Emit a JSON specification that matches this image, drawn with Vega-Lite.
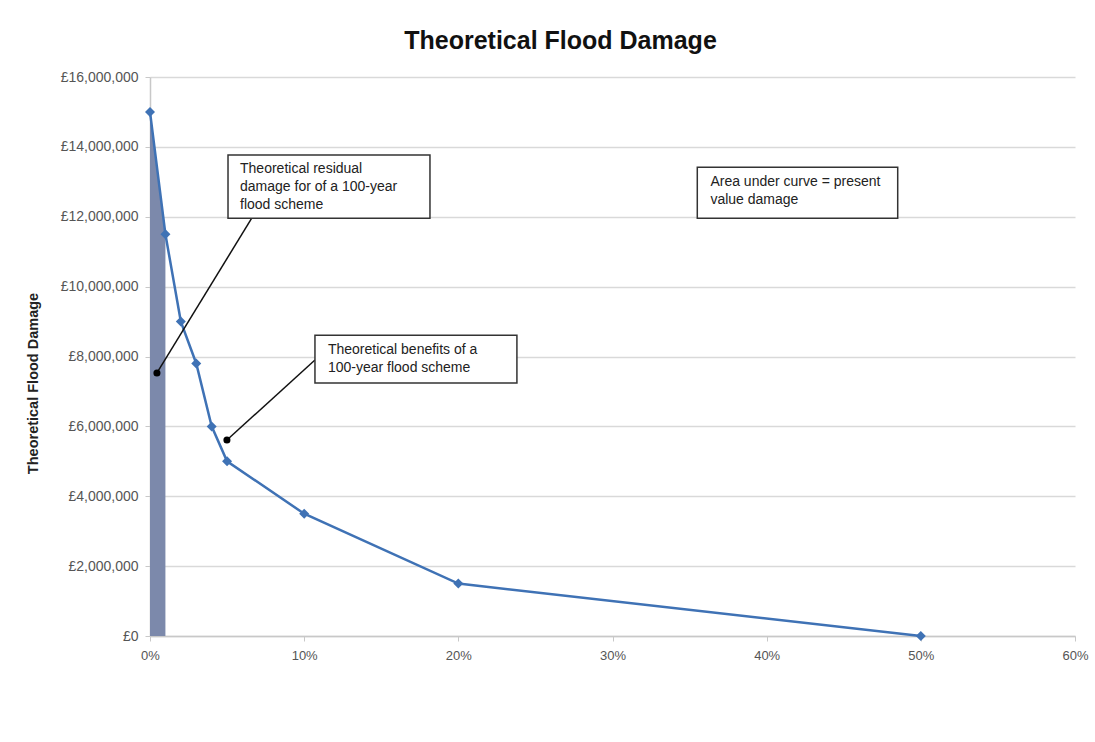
{
  "$schema": "https://vega.github.io/schema/vega-lite/v6.json",
  "width": 925,
  "height": 559,
  "autosize": "none",
  "padding": {"left": 150, "top": 77, "right": 20, "bottom": 106},
  "background": "white",
  "config": {
    "font": "Liberation Sans",
    "view": {"stroke": null}
  },
  "title": {
    "text": "Theoretical Flood Damage",
    "fontSize": 25,
    "fontWeight": "bold",
    "color": "#111111",
    "anchor": "middle",
    "dx": -52,
    "offset": 16
  },
  "datasets": {
    "curve": [
      {"p": 0, "d": 15000000},
      {"p": 0.01, "d": 11500000},
      {"p": 0.02, "d": 9000000},
      {"p": 0.03, "d": 7800000},
      {"p": 0.04, "d": 6000000},
      {"p": 0.05, "d": 5000000},
      {"p": 0.10, "d": 3500000},
      {"p": 0.20, "d": 1500000},
      {"p": 0.50, "d": 0}
    ],
    "shade": [
      {"p": 0, "d": 15000000},
      {"p": 0.01, "d": 11500000}
    ],
    "boxes": [
      {"x": 0.0506, "x2": 0.1816, "y": 11960000, "y2": 13770000, "tx": 0.0584, "ty": 13560000, "label": "Theoretical residual\ndamage for of a 100-year\nflood scheme"},
      {"x": 0.107, "x2": 0.238, "y": 7240000, "y2": 8610000, "tx": 0.1154, "ty": 8400000, "label": "Theoretical benefits of a\n100-year flood scheme"},
      {"x": 0.355, "x2": 0.485, "y": 11960000, "y2": 13420000, "tx": 0.3635, "ty": 13190000, "label": "Area under curve = present\nvalue damage"}
    ],
    "leaders": [
      {"x": 0.066, "y": 11960000, "x2": 0.0045, "y2": 7530000},
      {"x": 0.107, "y": 7900000, "x2": 0.0499, "y2": 5610000}
    ]
  },
  "layer": [
    {
      "data": {"name": "shade"},
      "mark": {"type": "area", "color": "#7c89ab", "opacity": 1},
      "encoding": {
        "x": {
          "field": "p", "type": "quantitative",
          "scale": {"domain": [0, 0.6], "nice": false},
          "axis": {
            "format": ".0%", "values": [0, 0.1, 0.2, 0.3, 0.4, 0.5, 0.6],
            "labelFlush": false,
            "grid": false, "domainColor": "#c8c8c8", "domainWidth": 1.5,
            "tickColor": "#c8c8c8", "tickSize": 5,
            "labelFontSize": 13, "labelColor": "#555555", "labelPadding": 8,
            "title": null
          }
        },
        "y": {
          "field": "d", "type": "quantitative",
          "scale": {"domain": [0, 16000000], "nice": false},
          "axis": {
            "values": [0, 2000000, 4000000, 6000000, 8000000, 10000000, 12000000, 14000000, 16000000],
            "labelExpr": "'£' + format(datum.value, ',.0f')",
            "labelFlush": false,
            "grid": true, "gridColor": "#d9d9d9", "gridWidth": 1.5,
            "domainColor": "#c8c8c8", "domainWidth": 1.5,
            "tickColor": "#c8c8c8", "tickSize": 5,
            "labelFontSize": 14, "labelColor": "#555555", "labelPadding": 7,
            "title": "Theoretical Flood Damage",
            "titleFontSize": 14.5, "titleFontWeight": "bold", "titleColor": "#222222",
            "titleX": -117, "titleY": 306, "titleAlign": "center", "titleBaseline": "middle", "titleAngle": -90
          }
        }
      }
    },
    {
      "data": {"name": "curve"},
      "mark": {"type": "line", "color": "#3f72b5", "strokeWidth": 2.5, "point": {"shape": "diamond", "size": 100, "color": "#3f72b5", "filled": true}},
      "encoding": {
        "x": {"field": "p", "type": "quantitative"},
        "y": {"field": "d", "type": "quantitative"}
      }
    },
    {
      "data": {"name": "leaders"},
      "mark": {"type": "rule", "color": "#111111", "strokeWidth": 1.5},
      "encoding": {
        "x": {"field": "x", "type": "quantitative"},
        "y": {"field": "y", "type": "quantitative"},
        "x2": {"field": "x2"},
        "y2": {"field": "y2"}
      }
    },
    {
      "data": {"name": "leaders"},
      "mark": {"type": "circle", "color": "#000000", "size": 50, "opacity": 1},
      "encoding": {
        "x": {"field": "x2", "type": "quantitative"},
        "y": {"field": "y2", "type": "quantitative"}
      }
    },
    {
      "data": {"name": "boxes"},
      "mark": {"type": "rect", "fill": "white", "stroke": "#333333", "strokeWidth": 1.5},
      "encoding": {
        "x": {"field": "x", "type": "quantitative"},
        "x2": {"field": "x2"},
        "y": {"field": "y", "type": "quantitative"},
        "y2": {"field": "y2"}
      }
    },
    {
      "data": {"name": "boxes"},
      "mark": {"type": "text", "align": "left", "baseline": "top", "fontSize": 14, "lineHeight": 18, "lineBreak": "\n", "color": "#222222"},
      "encoding": {
        "x": {"field": "tx", "type": "quantitative"},
        "y": {"field": "ty", "type": "quantitative"},
        "text": {"field": "label"}
      }
    }
  ]
}
